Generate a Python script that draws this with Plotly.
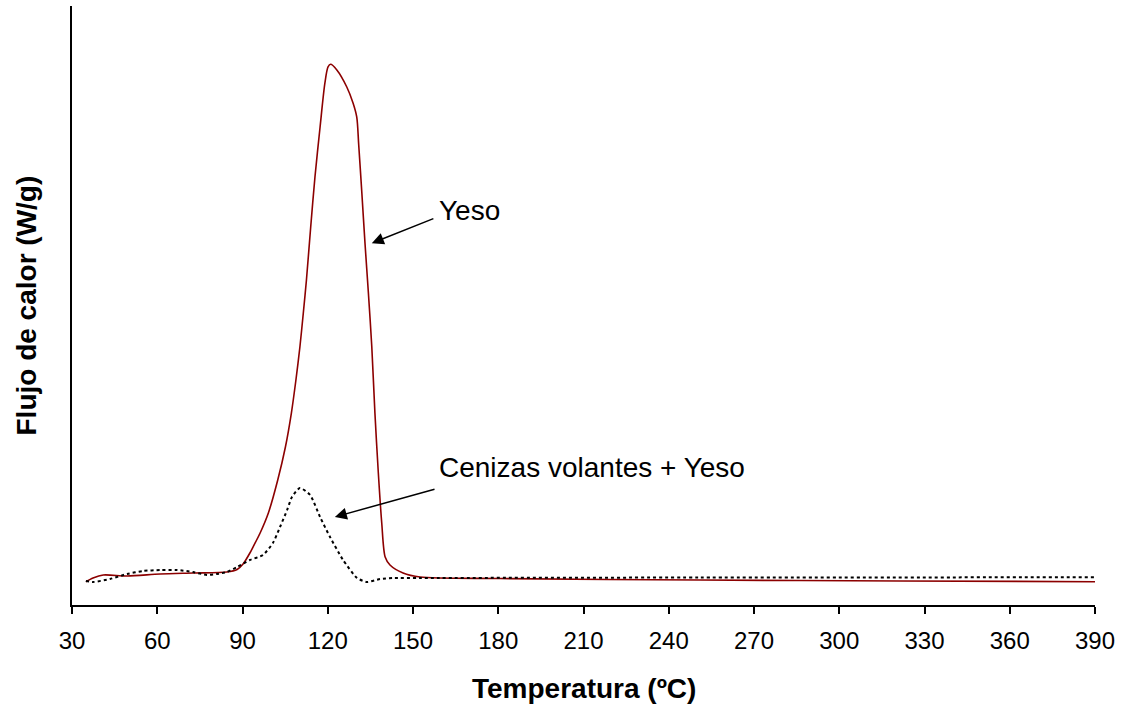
import plotly.graph_objects as go

# Heat flow curves (DSC), arbitrary heat-flow units
temp_yeso = [34.9, 37.4, 41.0, 49.4, 61.0, 72.6, 84.5, 88.1, 90.2, 92.6, 93.7, 96.2,
             99.1, 102.4, 105.1, 107.2, 108.8, 110.2, 111.4, 112.5, 114.0, 115.5,
             117.3, 119.0, 120.1, 121.0, 123.2, 126.7, 128.9, 130.2, 130.9, 132.0,
             133.1, 134.3, 135.5, 136.6, 137.8, 139.0, 140.2, 141.9, 146.5, 152.5,
             180.6, 251.0, 321.4, 390.0]
flujo_yeso = [3.89, 4.51, 5.01, 4.84, 5.18, 5.34, 5.51, 5.93, 6.84, 8.68, 9.68, 12.02,
              15.36, 20.87, 26.38, 32.05, 37.56, 43.07, 48.75, 54.26, 63.11, 71.45,
              79.80, 87.15, 89.82, 90.27, 89.32, 86.48, 83.81, 81.47, 76.80, 68.78,
              60.43, 52.09, 43.07, 32.05, 22.04, 13.69, 8.01, 6.68, 5.34, 4.67,
              4.42, 4.17, 4.01, 3.89]

temp_cenizas = [34.9, 37.4, 43.4, 49.4, 55.0, 61.0, 67.0, 72.6, 77.5, 81.0, 84.5, 88.1,
                92.6, 97.2, 100.7, 103.2, 105.7, 107.4, 110.2, 113.8, 117.3, 120.8,
                125.4, 130.3, 133.8, 138.4, 143.0, 152.5, 251.0, 390.0]
flujo_cenizas = [4.01, 3.84, 4.34, 5.18, 5.68, 5.84, 5.84, 5.51, 5.01, 5.18, 5.51, 6.34,
                 7.51, 8.35, 10.35, 13.02, 15.86, 18.03, 19.53, 18.36, 14.69, 11.35,
                 7.51, 4.51, 3.84, 4.34, 4.51, 4.51, 4.59, 4.62]

x_ticks = [30, 60, 90, 120, 150, 180, 210, 240, 270, 300, 330, 360, 390]

FONT = "Liberation Sans, Arial, sans-serif"

fig = go.Figure()
fig.add_trace(go.Scatter(
    x=temp_yeso, y=flujo_yeso, mode="lines", name="Yeso",
    line=dict(color="#8c0000", width=1.6, shape="spline", smoothing=0.8),
))
fig.add_trace(go.Scatter(
    x=temp_cenizas, y=flujo_cenizas, mode="lines", name="Cenizas volantes + Yeso",
    line=dict(color="black", width=2, dash="dot", shape="spline", smoothing=0.6),
))

# Labels with arrows pointing at each curve
fig.add_annotation(x=135.5, y=60.4, ax=157.7, ay=64.6, xref="x", yref="y",
                   axref="x", ayref="y", text="", showarrow=True,
                   arrowhead=2, arrowsize=1.6, arrowwidth=1.5, arrowcolor="black")
fig.add_annotation(x=158.6, y=65.8, xref="x", yref="y", text="Yeso",
                   showarrow=False, xanchor="left", yanchor="middle",
                   font=dict(family=FONT, size=28, color="black"))
fig.add_annotation(x=122.5, y=14.7, ax=158.1, ay=19.4, xref="x", yref="y",
                   axref="x", ayref="y", text="", showarrow=True,
                   arrowhead=2, arrowsize=1.6, arrowwidth=1.5, arrowcolor="black")
fig.add_annotation(x=158.6, y=22.9, xref="x", yref="y", text="Cenizas volantes + Yeso",
                   showarrow=False, xanchor="left", yanchor="middle",
                   font=dict(family=FONT, size=28, color="black"))

# Axis titles
fig.add_annotation(x=0.5, y=-0.1386, xref="paper", yref="paper",
                   text="<b>Temperatura (ºC)</b>", showarrow=False,
                   xanchor="center", yanchor="middle",
                   font=dict(family=FONT, size=28, color="black"))
fig.add_annotation(x=-0.044, y=0.5, xref="paper", yref="paper",
                   text="<b>Flujo de calor (W/g)</b>", showarrow=False,
                   textangle=-90, xanchor="center", yanchor="middle",
                   font=dict(family=FONT, size=28, color="black"))

fig.update_layout(
    width=1122, height=706,
    margin=dict(l=72, r=27, t=6, b=101),
    paper_bgcolor="white", plot_bgcolor="white",
    showlegend=False,
    font=dict(family=FONT, color="black"),
)
fig.update_xaxes(
    range=[30, 390], tickvals=x_ticks, ticktext=[str(v) for v in x_ticks],
    showgrid=False, zeroline=False, showline=True, linecolor="black", linewidth=1.5,
    ticks="outside", ticklen=7, tickwidth=1.5, tickcolor="black",
    ticklabelstandoff=6,
    tickfont=dict(family=FONT, size=24, color="black"),
)
fig.update_yaxes(
    range=[0, 100], showgrid=False, zeroline=False, showline=True,
    linecolor="black", linewidth=1.5, showticklabels=False, ticks="",
)

fig.write_html("out.html")
